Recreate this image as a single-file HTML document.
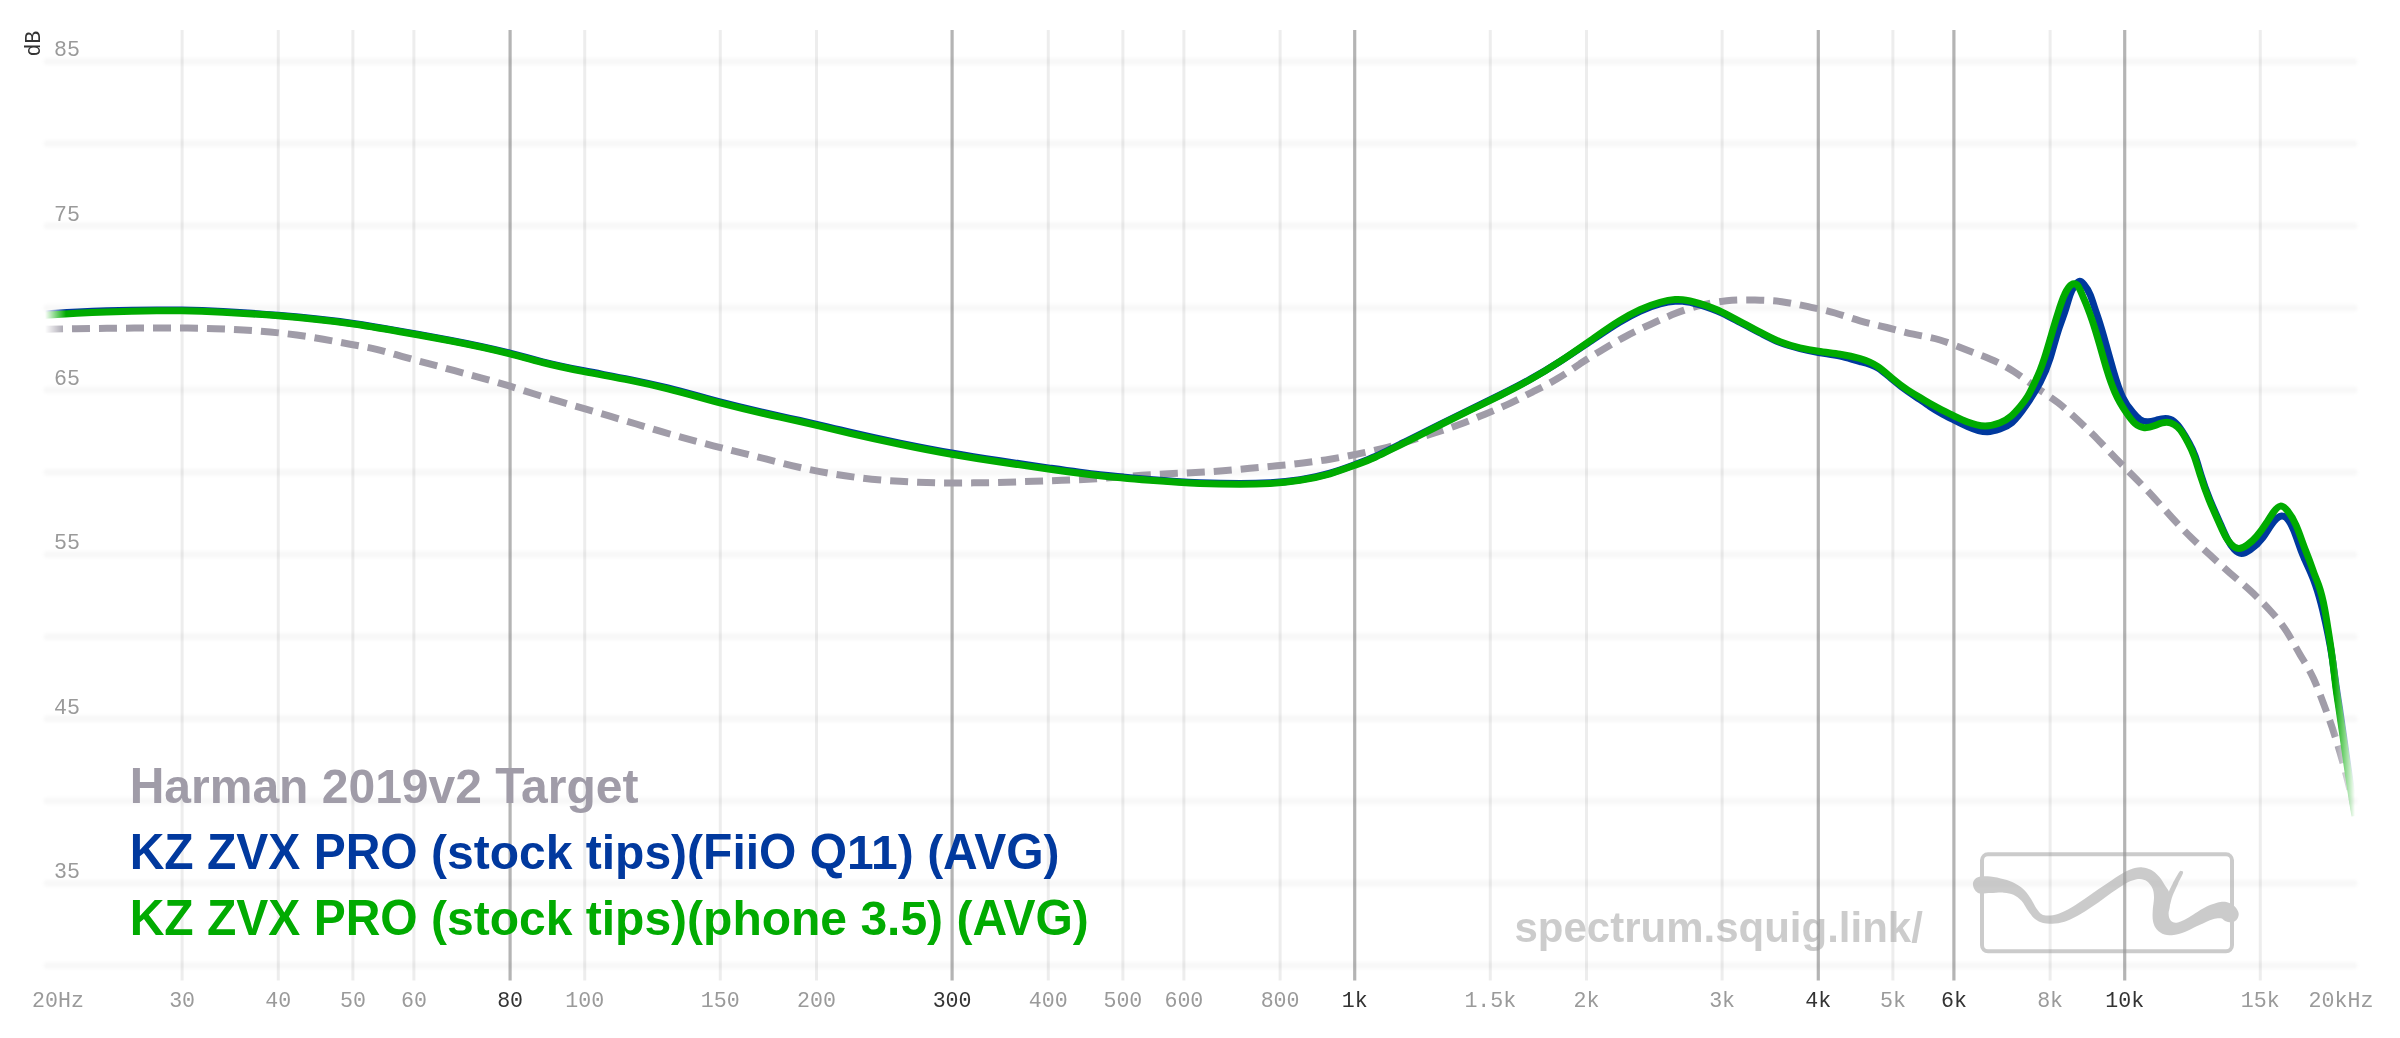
<!DOCTYPE html>
<html><head><meta charset="utf-8"><title>Graph</title>
<style>html,body{margin:0;padding:0;background:#fff;overflow:hidden}svg{display:block}text{font-family:"Liberation Mono",monospace}.lg{font-family:"Liberation Sans",sans-serif;font-weight:bold;font-size:48px;white-space:pre}.wm{font-family:"Liberation Sans",sans-serif;font-weight:bold;font-size:42px}</style></head><body>
<svg width="2400" height="1038" viewBox="0 0 2400 1038">
<defs><linearGradient id="fd" gradientUnits="userSpaceOnUse" x1="45" y1="0" x2="2355" y2="0"><stop offset="0" stop-color="#fff" stop-opacity="0"/><stop offset="0.00909" stop-color="#fff" stop-opacity="1"/><stop offset="0.99091" stop-color="#fff" stop-opacity="1"/><stop offset="1" stop-color="#fff" stop-opacity="0"/></linearGradient><mask id="mk" maskUnits="userSpaceOnUse" x="0" y="0" width="2400" height="1038"><rect x="45" y="0" width="2310" height="1038" fill="url(#fd)"/></mask><filter id="bl" filterUnits="userSpaceOnUse" x="0" y="0" width="2400" height="1038"><feGaussianBlur stdDeviation="1.7"/></filter></defs>
<rect width="2400" height="1038" fill="#fff"/>
<g stroke="#333" stroke-opacity="0.027" stroke-width="7" stroke-linecap="round" filter="url(#bl)">
<line x1="47" x2="2354" y1="965.4" y2="965.4"/>
<line x1="47" x2="2354" y1="883.2" y2="883.2"/>
<line x1="47" x2="2354" y1="801.0" y2="801.0"/>
<line x1="47" x2="2354" y1="718.8" y2="718.8"/>
<line x1="47" x2="2354" y1="636.7" y2="636.7"/>
<line x1="47" x2="2354" y1="554.5" y2="554.5"/>
<line x1="47" x2="2354" y1="472.3" y2="472.3"/>
<line x1="47" x2="2354" y1="390.1" y2="390.1"/>
<line x1="47" x2="2354" y1="307.9" y2="307.9"/>
<line x1="47" x2="2354" y1="225.8" y2="225.8"/>
<line x1="47" x2="2354" y1="143.6" y2="143.6"/>
<line x1="47" x2="2354" y1="61.4" y2="61.4"/>
</g>
<g stroke="#333">
<line x1="182.1" x2="182.1" y1="30" y2="980.5" stroke-width="3" stroke-opacity="0.088"/>
<line x1="278.3" x2="278.3" y1="30" y2="980.5" stroke-width="3" stroke-opacity="0.088"/>
<line x1="352.9" x2="352.9" y1="30" y2="980.5" stroke-width="3" stroke-opacity="0.088"/>
<line x1="413.9" x2="413.9" y1="30" y2="980.5" stroke-width="3" stroke-opacity="0.088"/>
<line x1="510.1" x2="510.1" y1="30" y2="980.5" stroke-width="3.2" stroke-opacity="0.37"/>
<line x1="584.7" x2="584.7" y1="30" y2="980.5" stroke-width="3" stroke-opacity="0.088"/>
<line x1="720.3" x2="720.3" y1="30" y2="980.5" stroke-width="3" stroke-opacity="0.088"/>
<line x1="816.5" x2="816.5" y1="30" y2="980.5" stroke-width="3" stroke-opacity="0.088"/>
<line x1="952.1" x2="952.1" y1="30" y2="980.5" stroke-width="3.2" stroke-opacity="0.37"/>
<line x1="1048.3" x2="1048.3" y1="30" y2="980.5" stroke-width="3" stroke-opacity="0.088"/>
<line x1="1122.9" x2="1122.9" y1="30" y2="980.5" stroke-width="3" stroke-opacity="0.088"/>
<line x1="1183.9" x2="1183.9" y1="30" y2="980.5" stroke-width="3" stroke-opacity="0.088"/>
<line x1="1280.1" x2="1280.1" y1="30" y2="980.5" stroke-width="3" stroke-opacity="0.088"/>
<line x1="1354.7" x2="1354.7" y1="30" y2="980.5" stroke-width="3.2" stroke-opacity="0.37"/>
<line x1="1490.3" x2="1490.3" y1="30" y2="980.5" stroke-width="3" stroke-opacity="0.088"/>
<line x1="1586.5" x2="1586.5" y1="30" y2="980.5" stroke-width="3" stroke-opacity="0.088"/>
<line x1="1722.1" x2="1722.1" y1="30" y2="980.5" stroke-width="3" stroke-opacity="0.088"/>
<line x1="1818.3" x2="1818.3" y1="30" y2="980.5" stroke-width="3.2" stroke-opacity="0.37"/>
<line x1="1892.9" x2="1892.9" y1="30" y2="980.5" stroke-width="3" stroke-opacity="0.088"/>
<line x1="1953.9" x2="1953.9" y1="30" y2="980.5" stroke-width="3.2" stroke-opacity="0.37"/>
<line x1="2050.1" x2="2050.1" y1="30" y2="980.5" stroke-width="3" stroke-opacity="0.088"/>
<line x1="2124.7" x2="2124.7" y1="30" y2="980.5" stroke-width="3.2" stroke-opacity="0.37"/>
<line x1="2260.3" x2="2260.3" y1="30" y2="980.5" stroke-width="3" stroke-opacity="0.088"/>
</g>
<g font-size="21.6" text-anchor="middle" opacity="0.999">
<text x="58.0" y="1006.5" fill="#9a9a9a">20Hz</text>
<text x="182.1" y="1006.5" fill="#9a9a9a">30</text>
<text x="278.3" y="1006.5" fill="#9a9a9a">40</text>
<text x="352.9" y="1006.5" fill="#9a9a9a">50</text>
<text x="413.9" y="1006.5" fill="#9a9a9a">60</text>
<text x="510.1" y="1006.5" fill="#333">80</text>
<text x="584.7" y="1006.5" fill="#9a9a9a">100</text>
<text x="720.3" y="1006.5" fill="#9a9a9a">150</text>
<text x="816.5" y="1006.5" fill="#9a9a9a">200</text>
<text x="952.1" y="1006.5" fill="#333">300</text>
<text x="1048.3" y="1006.5" fill="#9a9a9a">400</text>
<text x="1122.9" y="1006.5" fill="#9a9a9a">500</text>
<text x="1183.9" y="1006.5" fill="#9a9a9a">600</text>
<text x="1280.1" y="1006.5" fill="#9a9a9a">800</text>
<text x="1354.7" y="1006.5" fill="#333">1k</text>
<text x="1490.3" y="1006.5" fill="#9a9a9a">1.5k</text>
<text x="1586.5" y="1006.5" fill="#9a9a9a">2k</text>
<text x="1722.1" y="1006.5" fill="#9a9a9a">3k</text>
<text x="1818.3" y="1006.5" fill="#333">4k</text>
<text x="1892.9" y="1006.5" fill="#9a9a9a">5k</text>
<text x="1953.9" y="1006.5" fill="#333">6k</text>
<text x="2050.1" y="1006.5" fill="#9a9a9a">8k</text>
<text x="2124.7" y="1006.5" fill="#333">10k</text>
<text x="2260.3" y="1006.5" fill="#9a9a9a">15k</text>
<text x="2341.0" y="1006.5" fill="#9a9a9a">20kHz</text>
</g>
<g font-size="21.6" fill="#9a9a9a" opacity="0.999">
<text x="54" y="878.0">35</text>
<text x="54" y="713.6">45</text>
<text x="54" y="549.3">55</text>
<text x="54" y="384.9">65</text>
<text x="54" y="220.6">75</text>
<text x="54" y="56.2">85</text>
</g>
<text font-size="21.6" fill="#333" opacity="0.999" transform="translate(39.5,56.6) rotate(-90)">dB</text>
<g opacity="0.999" transform="translate(1514.5,941.8) scale(1,0.99)"><text class="wm" x="0" y="0" fill="#999" fill-opacity="0.5">spectrum.squig.link/</text></g>
<g opacity="0.5" fill="#999">
<rect x="1982" y="854.3" width="250" height="97" rx="6" ry="6" fill="none" stroke="#999" stroke-width="4"/>
<path d="M1972.9,883.9C1972.9,882.1 1973.7,880.5 1974.9,879.2C1976.2,878.0 1977.8,877.0 1980.3,876.5C1982.9,876.1 1986.5,876.1 1990.5,876.5C1994.4,877.0 1999.9,878.1 2003.9,879.2C2008.0,880.3 2011.4,881.5 2014.7,883.3C2018.1,885.1 2021.5,887.4 2024.2,890.0C2026.9,892.6 2028.9,895.7 2030.9,898.8C2032.9,901.8 2034.5,905.6 2036.3,908.2C2038.1,910.8 2039.7,913.0 2041.7,914.3C2043.7,915.5 2045.7,915.7 2048.4,915.6C2051.1,915.6 2054.1,915.2 2057.9,913.9C2061.7,912.5 2066.9,910.1 2071.4,907.5C2075.9,905.0 2080.3,901.8 2084.8,898.8C2089.3,895.7 2093.8,892.4 2098.3,889.3C2102.8,886.2 2107.5,883.0 2111.8,880.2C2116.1,877.4 2120.1,874.5 2123.9,872.5C2127.8,870.5 2131.6,868.9 2134.7,868.0C2137.9,867.2 2140.1,867.1 2142.8,867.4C2145.5,867.6 2148.2,868.3 2150.9,869.8C2153.6,871.3 2156.5,873.7 2159.0,876.5C2161.5,879.3 2164.0,883.8 2165.7,886.6C2167.5,889.4 2168.7,890.2 2169.4,893.4C2170.1,896.5 2170.1,902.1 2169.9,905.5C2169.8,908.9 2168.5,911.1 2168.6,913.6C2168.7,916.1 2169.1,918.8 2170.5,920.3C2171.8,921.9 2173.7,923.1 2176.5,922.8C2179.3,922.4 2182.8,920.7 2187.3,918.3C2191.8,915.9 2198.6,910.8 2203.5,908.2C2208.5,905.6 2213.2,903.8 2217.0,902.8C2220.8,901.8 2223.5,901.6 2226.4,902.1C2229.4,902.7 2232.5,904.4 2234.5,906.2C2236.5,908.0 2238.1,910.8 2238.6,912.9C2239.0,915.1 2238.3,917.4 2237.2,919.0C2236.1,920.6 2233.8,922.0 2231.8,922.4C2229.8,922.7 2226.9,921.7 2225.1,921.0C2223.3,920.3 2223.1,918.6 2221.0,918.3C2219.0,918.0 2216.5,918.1 2212.9,919.3C2209.3,920.4 2204.0,923.0 2199.5,925.1C2195.0,927.1 2190.2,929.8 2186.0,931.4C2181.7,933.0 2177.4,934.4 2173.8,934.9C2170.2,935.4 2167.2,935.4 2164.4,934.5C2161.6,933.6 2158.9,931.9 2157.0,929.8C2155.1,927.6 2153.8,924.8 2153.1,921.7C2152.4,918.5 2152.5,915.0 2152.7,910.9C2152.8,906.9 2154.1,901.2 2154.0,897.4C2154.0,893.6 2153.5,890.7 2152.3,888.0C2151.1,885.3 2148.9,882.7 2146.9,881.2C2144.8,879.7 2142.8,879.0 2140.1,878.9C2137.4,878.9 2134.3,879.5 2130.7,881.0C2127.1,882.5 2122.8,885.2 2118.6,888.0C2114.3,890.7 2109.6,894.2 2105.1,897.4C2100.6,900.6 2096.1,904.1 2091.6,907.1C2087.1,910.2 2082.6,913.2 2078.1,915.6C2073.6,918.1 2068.9,920.3 2064.6,921.7C2060.3,923.0 2056.1,923.5 2052.5,923.7C2048.9,923.9 2046.0,923.8 2043.0,923.0C2040.1,922.3 2037.4,921.0 2035.0,919.0C2032.5,917.0 2030.5,913.9 2028.2,910.9C2026.0,907.9 2023.9,903.5 2021.5,900.8C2019.0,898.1 2016.3,896.1 2013.4,894.7C2010.5,893.4 2007.8,893.0 2003.9,892.7C2000.1,892.4 1994.5,893.0 1990.5,893.1C1986.4,893.2 1982.3,893.9 1979.7,893.4C1977.1,892.9 1976.1,891.6 1974.9,890.0C1973.8,888.4 1972.9,885.7 1972.9,883.9Z"/>
<path d="M2167.8,894.7C2168.6,891.1 2170.6,887.7 2172.5,883.9C2174.4,880.2 2177.8,874.2 2179.2,872.1C2180.7,869.9 2180.6,870.9 2181.3,871.1C2181.9,871.3 2183.6,871.0 2183.0,873.1C2182.4,875.3 2179.6,880.1 2177.9,883.9C2176.1,887.8 2173.8,892.5 2172.5,896.1C2171.1,899.7 2170.6,903.9 2169.8,905.5C2168.9,907.1 2167.7,907.3 2167.4,905.5C2167.0,903.7 2166.9,898.3 2167.8,894.7Z"/>
</g>
<g mask="url(#mk)" fill="none" stroke-linejoin="round">
<path d="M45.0,329.2C65.6,328.8 86.1,328.5 106.7,328.3C125.0,328.1 143.4,328.0 161.7,328.0C179.5,328.0 197.2,328.1 215.0,328.7C224.4,329.0 233.9,329.4 243.3,330.0C252.2,330.5 261.1,331.2 270.0,332.0C278.9,332.8 287.8,333.8 296.7,335.0C305.6,336.2 314.4,337.6 323.3,339.2C332.2,340.8 341.1,342.6 350.0,344.2C358.8,345.8 367.7,347.2 376.5,349.3C385.2,351.4 393.9,354.1 402.6,356.6C411.3,359.1 419.9,361.3 428.6,363.6C437.3,365.9 445.9,368.3 454.6,370.7C463.4,373.1 472.1,375.5 480.9,377.9C489.5,380.2 498.0,382.5 506.6,385.1C515.4,387.8 524.1,390.7 532.9,393.5C541.4,396.2 550.0,398.7 558.5,401.2C567.1,403.7 575.6,406.2 584.2,408.7C592.8,411.2 601.3,413.7 609.9,416.2C618.7,418.8 627.4,421.4 636.2,424.0C644.7,426.6 653.2,429.2 661.7,431.7C678.9,436.8 696.1,441.4 713.3,445.8C731.1,450.3 748.9,454.6 766.7,459.2C777.8,462.0 788.9,465.0 800.0,467.5C815.0,470.9 830.0,473.6 845.0,475.8C853.9,477.1 862.8,478.3 871.7,479.2C881.1,480.1 890.6,480.8 900.0,481.3C908.9,481.8 917.8,482.2 926.7,482.5C935.6,482.8 944.4,483.0 953.3,483.0C962.2,483.0 971.1,482.9 980.0,482.8C988.9,482.7 997.8,482.5 1006.7,482.2C1015.5,481.9 1024.2,481.6 1033.0,481.3C1042.6,481.0 1052.1,480.6 1061.7,480.3C1070.5,480.0 1079.2,479.7 1088.0,479.2C1105.9,478.2 1123.8,476.5 1141.7,475.3C1150.5,474.7 1159.2,474.2 1168.0,473.8C1178.7,473.3 1189.3,472.9 1200.0,472.3C1207.7,471.9 1215.3,471.4 1223.0,470.8C1232.0,470.1 1241.0,469.2 1250.0,468.3C1258.9,467.5 1267.8,466.7 1276.7,465.8C1285.5,465.0 1294.2,464.1 1303.0,463.0C1312.0,461.9 1321.0,460.7 1330.0,459.2C1338.9,457.7 1347.8,456.0 1356.7,454.2C1365.5,452.4 1374.2,450.5 1383.0,448.3C1399.7,444.1 1416.3,438.9 1433.0,433.5C1442.0,430.6 1451.0,427.6 1460.0,424.2C1468.3,421.1 1476.7,417.7 1485.0,414.2C1493.3,410.7 1501.7,407.3 1510.0,403.3C1517.7,399.7 1525.3,395.6 1533.0,391.7C1541.3,387.4 1549.7,383.4 1558.0,378.3C1565.3,373.9 1572.7,368.7 1580.0,363.8C1587.8,358.7 1595.5,353.9 1603.3,349.2C1611.1,344.5 1618.9,339.9 1626.7,335.8C1634.7,331.6 1642.8,327.9 1650.8,324.2C1659.1,320.4 1667.5,316.6 1675.8,313.3C1684.4,309.9 1693.1,307.1 1701.7,305.0C1710.0,303.0 1718.4,301.6 1726.7,300.8C1736.1,299.9 1745.6,299.8 1755.0,300.0C1763.9,300.2 1772.8,300.5 1781.7,301.7C1790.6,302.9 1799.4,304.8 1808.3,306.7C1817.2,308.6 1826.1,310.4 1835.0,313.0C1843.3,315.4 1851.7,318.4 1860.0,320.8C1868.9,323.4 1877.8,325.3 1886.7,327.5C1895.6,329.7 1904.4,332.3 1913.3,334.2C1922.2,336.1 1931.1,337.4 1940.0,340.0C1948.5,342.5 1957.0,346.2 1965.5,349.5C1973.7,352.7 1981.8,355.5 1990.0,359.0C1998.0,362.4 2006.0,366.4 2014.0,371.6C2021.5,376.5 2029.0,382.3 2036.5,387.6C2043.6,392.6 2050.7,397.1 2057.8,402.6C2064.5,407.8 2071.1,413.9 2077.8,420.1C2084.5,426.4 2091.2,432.7 2097.9,439.6C2104.0,445.9 2110.2,452.5 2116.3,458.9C2122.6,465.4 2128.9,471.6 2135.2,478.0C2141.4,484.3 2147.7,490.8 2153.9,497.6C2159.9,504.2 2166.0,511.0 2172.0,517.6C2178.5,524.7 2184.9,531.4 2191.4,537.7C2197.7,543.8 2203.9,549.5 2210.2,555.2C2216.9,561.3 2223.6,567.5 2230.3,573.3C2237.0,579.1 2243.6,584.6 2250.3,590.7C2256.8,596.6 2263.2,603.1 2269.7,610.1C2275.3,616.2 2281.0,622.6 2286.6,631.4C2291.2,638.6 2295.8,647.4 2300.4,655.2C2304.8,662.6 2309.1,669.0 2313.5,678.5C2316.6,685.2 2319.7,693.4 2322.8,701.7C2325.9,710.0 2329.1,718.4 2332.2,727.7C2334.6,734.9 2337.1,742.7 2339.5,750.8C2341.5,757.5 2343.5,764.5 2345.5,772.0C2347.2,778.3 2348.8,784.9 2350.5,792.0C2352.0,798.4 2353.5,805.0 2355.0,812.0" stroke="#a09ca8" stroke-width="7" stroke-dasharray="18 9"/>
<path d="M45.0,313.9C65.6,312.6 86.1,311.5 106.7,310.8C123.4,310.2 140.0,309.9 156.7,309.9C165.0,309.9 173.4,309.9 181.7,310.1C195.5,310.4 209.2,310.9 223.0,311.6C241.4,312.6 259.9,313.8 278.3,315.3C302.8,317.3 327.2,319.7 351.7,323.2C367.8,325.6 383.9,328.3 400.0,331.1C416.7,334.0 433.3,337.0 450.0,340.2C470.0,344.0 490.0,348.1 510.0,353.2C520.9,356.0 531.7,359.0 542.6,361.8C556.4,365.2 570.2,368.1 584.0,370.8C599.4,373.8 614.9,376.5 630.3,379.6C642.8,382.1 655.4,384.9 667.9,388.0C684.6,392.2 701.3,397.0 718.0,401.4C738.7,406.8 759.3,411.6 780.0,416.1C786.7,417.6 793.3,419.0 800.0,420.5C816.7,424.2 833.3,428.4 850.0,432.2C866.7,436.1 883.3,439.7 900.0,443.1C917.2,446.6 934.5,450.0 951.7,453.0C967.8,455.9 983.9,458.4 1000.0,460.8C1016.7,463.3 1033.3,465.7 1050.0,468.1C1066.7,470.5 1083.3,472.9 1100.0,474.8C1116.7,476.7 1133.3,478.1 1150.0,479.4C1166.7,480.8 1183.3,482.0 1200.0,482.8C1213.3,483.3 1226.7,483.6 1240.0,483.6C1250.0,483.6 1260.0,483.4 1270.0,482.8C1280.0,482.2 1290.0,481.2 1300.0,479.7C1310.0,478.2 1320.0,476.2 1330.0,473.2C1338.2,470.8 1346.5,467.7 1354.7,464.7C1361.5,462.1 1368.4,459.6 1375.2,456.5C1380.1,454.3 1385.1,451.8 1390.0,449.3C1396.7,445.9 1403.3,442.6 1410.0,439.3C1420.0,434.4 1430.0,429.3 1440.0,424.4C1450.0,419.4 1460.0,414.5 1470.0,409.6C1480.0,404.8 1490.0,399.9 1500.0,395.0C1510.0,390.1 1520.0,385.0 1530.0,379.4C1540.0,373.9 1550.0,367.9 1560.0,361.5C1570.0,355.1 1580.0,348.3 1590.0,341.6C1600.0,334.8 1610.0,327.9 1620.0,321.9C1626.7,317.9 1633.3,314.3 1640.0,311.2C1646.7,308.2 1653.4,305.7 1660.1,303.9C1665.1,302.6 1670.1,301.6 1675.1,301.3C1677.6,301.1 1680.1,301.1 1682.6,301.3C1688.4,301.7 1694.2,303.3 1700.0,305.0C1707.3,307.2 1714.7,309.7 1722.0,313.1C1728.0,315.9 1734.1,319.3 1740.1,322.5C1746.8,326.1 1753.4,329.5 1760.1,333.0C1766.7,336.4 1773.4,340.0 1780.0,342.6C1786.7,345.3 1793.3,347.0 1800.0,348.6C1806.1,350.1 1812.3,351.4 1818.4,352.5C1825.6,353.8 1832.9,354.6 1840.1,356.2C1846.7,357.7 1853.4,359.8 1860.0,361.5C1866.0,363.0 1871.9,364.3 1877.9,367.9C1882.9,370.9 1887.9,375.7 1892.9,379.9C1897.9,384.2 1902.8,388.0 1907.8,391.4C1911.8,394.2 1915.7,396.7 1919.7,399.4C1923.1,401.8 1926.6,404.3 1930.0,406.6C1933.9,409.2 1937.8,411.5 1941.7,413.6C1945.7,415.8 1949.8,417.8 1953.8,419.8C1958.4,422.1 1963.0,424.4 1967.6,426.5C1974.3,429.5 1980.9,431.9 1987.6,431.7C1991.7,431.6 1995.9,430.4 2000.0,429.0C2004.0,427.6 2008.0,425.9 2012.0,422.5C2016.7,418.4 2021.5,412.0 2026.2,405.1C2030.8,398.4 2035.4,391.4 2040.0,382.7C2043.4,376.2 2046.9,368.7 2050.3,357.7C2052.7,349.9 2055.2,340.3 2057.6,332.6C2060.5,323.5 2063.3,317.1 2066.2,307.6C2067.5,303.4 2068.7,298.6 2070.0,295.0C2071.7,290.3 2073.3,287.8 2075.0,285.5C2076.6,283.3 2078.1,281.4 2079.7,281.3C2081.1,281.2 2082.6,282.8 2084.0,284.5C2086.1,287.0 2088.2,289.8 2090.3,295.0C2091.6,298.3 2093.0,302.6 2094.3,306.7C2095.8,311.3 2097.3,315.5 2098.8,320.1C2101.3,327.7 2103.7,336.3 2106.2,345.2C2108.5,353.6 2110.9,362.2 2113.2,370.2C2116.3,380.8 2119.4,390.3 2122.5,397.0C2126.0,404.6 2129.5,408.6 2133.0,412.6C2135.3,415.3 2137.7,417.9 2140.0,419.5C2142.7,421.4 2145.3,421.9 2148.0,421.8C2151.0,421.7 2154.0,420.8 2157.0,420.0C2159.8,419.2 2162.7,418.6 2165.5,418.6C2168.3,418.6 2171.2,419.3 2174.0,421.5C2176.5,423.4 2179.0,426.5 2181.5,430.2C2184.0,433.9 2186.5,438.1 2189.0,442.7C2191.1,446.5 2193.2,450.6 2195.3,456.5C2197.2,461.9 2199.1,468.8 2201.0,475.0C2204.0,484.8 2207.0,492.8 2210.0,500.1C2213.7,509.0 2217.3,516.9 2221.0,525.2C2223.1,530.0 2225.2,534.9 2227.3,539.0C2229.6,543.5 2232.0,547.0 2234.3,549.5C2236.7,552.0 2239.1,553.5 2241.5,553.6C2244.3,553.7 2247.2,552.0 2250.0,550.0C2254.3,547.0 2258.5,543.5 2262.8,537.7C2265.9,533.5 2268.9,528.2 2272.0,524.0C2275.2,519.6 2278.4,516.4 2281.6,516.1C2284.1,515.9 2286.5,517.4 2289.0,521.0C2290.7,523.4 2292.3,526.9 2294.0,531.0C2296.3,536.8 2298.7,544.0 2301.0,550.2C2302.3,553.7 2303.7,556.9 2305.0,560.0C2306.9,564.4 2308.9,568.5 2310.8,573.0C2312.4,576.6 2313.9,580.5 2315.5,585.0C2317.9,591.9 2320.3,600.2 2322.7,610.1C2324.5,617.7 2326.4,626.1 2328.2,635.2C2329.7,642.5 2331.1,650.1 2332.6,660.2C2333.7,668.0 2334.9,677.2 2336.0,685.3C2337.2,693.8 2338.4,701.1 2339.6,708.9C2341.0,718.0 2342.4,727.9 2343.8,737.8C2345.2,747.5 2346.5,757.1 2347.9,766.7C2349.3,776.5 2350.7,786.3 2352.1,795.6C2353.1,802.0 2354.0,808.2 2355.0,814.0" stroke="#00399e" stroke-width="7"/>
<path d="M45.0,315.2C65.6,313.9 86.1,312.8 106.7,312.0C123.4,311.4 140.0,311.0 156.7,310.8C165.0,310.7 173.4,310.7 181.7,310.8C195.5,311.0 209.2,311.5 223.0,312.2C241.4,313.1 259.9,314.3 278.3,315.8C302.8,317.8 327.2,320.3 351.7,323.8C367.8,326.1 383.9,328.9 400.0,331.7C416.7,334.6 433.3,337.6 450.0,340.8C470.0,344.6 490.0,348.8 510.0,353.9C520.9,356.7 531.7,359.8 542.6,362.5C556.4,366.0 570.2,368.9 584.0,371.6C599.4,374.6 614.9,377.3 630.3,380.4C642.8,382.9 655.4,385.7 667.9,388.9C684.6,393.1 701.3,397.9 718.0,402.3C738.7,407.7 759.3,412.6 780.0,417.1C786.7,418.6 793.3,420.0 800.0,421.5C816.7,425.3 833.3,429.4 850.0,433.3C866.7,437.2 883.3,440.8 900.0,444.2C917.2,447.8 934.5,451.2 951.7,454.2C967.8,457.0 983.9,459.6 1000.0,462.0C1016.7,464.5 1033.3,466.8 1050.0,469.2C1066.7,471.6 1083.3,473.9 1100.0,475.8C1116.7,477.7 1133.3,479.0 1150.0,480.3C1166.7,481.6 1183.3,482.8 1200.0,483.5C1213.3,484.0 1226.7,484.2 1240.0,484.2C1250.0,484.2 1260.0,484.0 1270.0,483.4C1280.0,482.8 1290.0,481.7 1300.0,480.2C1310.0,478.7 1320.0,476.7 1330.0,473.8C1338.2,471.4 1346.5,468.3 1354.7,465.3C1361.5,462.8 1368.4,460.3 1375.2,457.2C1380.1,455.0 1385.1,452.5 1390.0,450.0C1396.7,446.7 1403.3,443.4 1410.0,440.1C1420.0,435.1 1430.0,430.0 1440.0,425.0C1450.0,420.0 1460.0,415.1 1470.0,410.2C1480.0,405.3 1490.0,400.5 1500.0,395.5C1510.0,390.5 1520.0,385.4 1530.0,379.8C1540.0,374.2 1550.0,368.0 1560.0,361.4C1570.0,354.8 1580.0,347.8 1590.0,340.8C1600.0,333.8 1610.0,326.6 1620.0,320.5C1626.7,316.4 1633.3,312.8 1640.0,309.7C1646.7,306.6 1653.4,304.1 1660.1,302.3C1665.1,300.9 1670.1,299.9 1675.1,299.6C1677.6,299.4 1680.1,299.5 1682.6,299.7C1688.4,300.2 1694.2,301.9 1700.0,303.7C1707.3,306.0 1714.7,308.6 1722.0,312.1C1728.0,314.9 1734.1,318.3 1740.1,321.6C1746.8,325.2 1753.4,328.6 1760.1,332.1C1766.7,335.6 1773.4,339.1 1780.0,341.8C1786.7,344.5 1793.3,346.3 1800.0,347.8C1806.1,349.2 1812.3,350.3 1818.4,351.2C1825.6,352.3 1832.9,353.1 1840.1,354.2C1846.7,355.2 1853.4,356.5 1860.0,358.5C1866.0,360.3 1871.9,362.5 1877.9,366.6C1882.9,370.0 1887.9,374.7 1892.9,378.9C1897.9,383.1 1902.8,386.9 1907.8,390.2C1911.8,392.8 1915.7,395.1 1919.7,397.4C1923.1,399.4 1926.6,401.5 1930.0,403.5C1933.9,405.7 1937.8,407.8 1941.7,409.8C1945.7,411.9 1949.8,413.8 1953.8,415.8C1958.4,418.0 1963.0,420.2 1967.6,422.0C1973.4,424.3 1979.3,425.9 1985.1,425.9C1990.1,425.9 1995.1,424.7 2000.1,422.7C2003.9,421.2 2007.6,419.1 2011.4,415.8C2014.3,413.2 2017.3,409.8 2020.2,406.4C2022.7,403.5 2025.2,400.5 2027.7,396.3C2029.8,392.8 2031.9,388.4 2034.0,384.0C2036.1,379.6 2038.1,375.2 2040.2,370.0C2041.7,366.3 2043.1,362.2 2044.6,357.7C2047.1,350.0 2049.6,341.2 2052.1,332.6C2054.6,323.8 2057.2,315.2 2059.7,307.6C2061.3,302.9 2062.8,298.5 2064.4,295.0C2065.9,291.5 2067.5,288.9 2069.0,287.0C2070.7,285.0 2072.3,283.9 2074.0,283.8C2075.3,283.7 2076.7,284.2 2078.0,286.0C2079.4,288.0 2080.9,291.6 2082.3,295.0C2083.9,298.9 2085.6,302.6 2087.2,306.7C2088.8,310.8 2090.5,315.3 2092.1,320.1C2094.7,327.7 2097.2,336.2 2099.8,345.2C2102.2,353.6 2104.6,362.4 2107.0,370.2C2109.6,378.7 2112.2,386.0 2114.8,392.0C2116.5,396.0 2118.3,399.4 2120.0,402.5C2122.1,406.2 2124.2,409.5 2126.3,412.6C2129.2,416.9 2132.1,420.9 2135.0,423.5C2138.1,426.3 2141.1,427.5 2144.2,427.7C2147.8,428.0 2151.4,426.9 2155.0,425.5C2158.9,424.0 2162.9,422.2 2166.8,422.3C2169.2,422.4 2171.6,423.1 2174.0,424.5C2176.2,425.7 2178.3,427.4 2180.5,430.2C2183.0,433.4 2185.5,438.0 2188.0,442.7C2190.1,446.7 2192.2,450.7 2194.3,456.5C2196.3,461.9 2198.2,468.7 2200.2,475.0C2203.2,484.5 2206.2,492.7 2209.2,500.1C2212.9,509.2 2216.5,517.1 2220.2,525.2C2222.2,529.7 2224.3,534.2 2226.3,537.7C2228.0,540.6 2229.6,542.7 2231.3,544.4C2233.7,546.9 2236.1,548.4 2238.5,548.6C2241.3,548.8 2244.2,547.2 2247.0,545.2C2250.2,542.9 2253.4,540.1 2256.6,536.4C2259.9,532.6 2263.3,527.9 2266.6,522.7C2269.1,518.8 2271.6,514.7 2274.1,511.4C2276.2,508.6 2278.3,506.4 2280.4,506.1C2282.8,505.8 2285.1,507.9 2287.5,510.8C2290.3,514.3 2293.2,518.8 2296.0,525.2C2299.2,532.4 2302.3,542.0 2305.5,550.2C2306.8,553.5 2308.0,556.6 2309.3,560.0C2311.1,564.9 2313.0,570.6 2314.8,575.3C2316.1,578.6 2317.3,581.4 2318.6,585.0C2320.7,590.9 2322.8,598.7 2324.9,610.1C2326.3,617.5 2327.6,626.4 2329.0,635.2C2330.2,642.9 2331.4,650.6 2332.6,660.2C2333.6,668.2 2334.6,677.4 2335.6,685.3C2336.7,694.2 2337.9,701.4 2339.0,708.9C2340.4,718.2 2341.8,727.9 2343.2,737.8C2344.6,747.4 2345.9,757.2 2347.3,766.7C2348.7,776.7 2350.2,786.4 2351.6,795.6C2352.7,802.8 2353.9,809.7 2355.0,816.0" stroke="#00ab00" stroke-width="7"/>
</g>
<g opacity="0.999">
<g fill="#a09ca8" transform="translate(129.7,802.8)">
<text class="lg" x="0.00" y="0" transform="scale(1,1.042)">H</text>
<text class="lg" x="34.67" y="0">arman 2019v2 </text>
<text class="lg" x="365.58" y="0" transform="scale(1,1.042)">T</text>
<text class="lg" x="391.34" y="0">arget</text>
</g>
<g fill="#00399e" transform="translate(129.7,868.6)">
<text class="lg" x="0.00" y="0" transform="scale(1,1.042)">KZ ZVX PRO</text>
<text class="lg" x="288.03" y="0"> (stock tips)(</text>
<text class="lg" x="573.38" y="0" transform="scale(1,1.042)">F</text>
<text class="lg" x="602.70" y="0">ii</text>
<text class="lg" x="629.38" y="0" transform="scale(1,1.042)">O Q</text>
<text class="lg" x="717.38" y="0">11) (</text>
<text class="lg" x="813.42" y="0" transform="scale(1,1.042)">AVG</text>
<text class="lg" x="913.88" y="0">)</text>
</g>
<g fill="#00ab00" transform="translate(129.7,934.8)">
<text class="lg" x="0.00" y="0" transform="scale(1,1.042)">KZ ZVX PRO</text>
<text class="lg" x="288.03" y="0"> (stock tips)(phone 3.5) (</text>
<text class="lg" x="842.72" y="0" transform="scale(1,1.042)">AVG</text>
<text class="lg" x="943.17" y="0">)</text>
</g>
</g>
</svg></body></html>
